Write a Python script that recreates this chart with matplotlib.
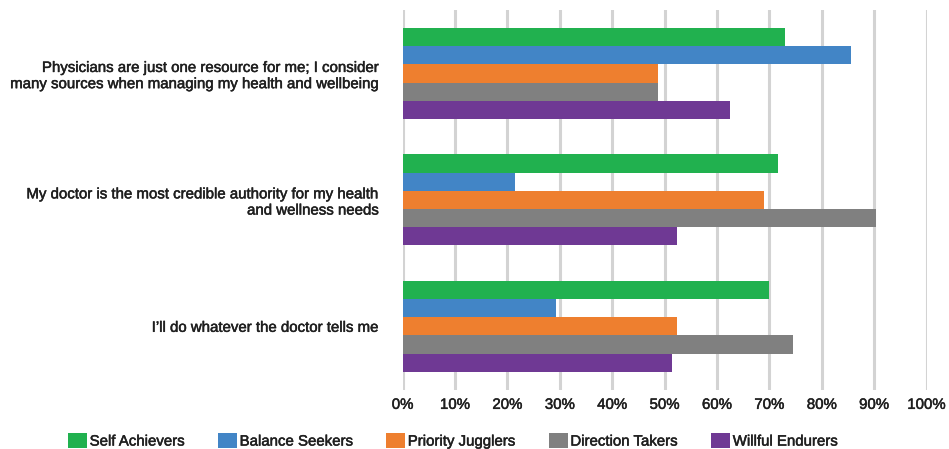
import matplotlib
matplotlib.use("Agg")
import matplotlib.pyplot as plt
import matplotlib.patheffects as pe
import numpy as np

plt.rcParams['font.family'] = ['Liberation Sans', 'DejaVu Sans']

# Survey statements (top to bottom)
statements = [
    "Physicians are just one resource for me; I consider\nmany sources when managing my health and wellbeing",
    "My doctor is the most credible authority for my health\nand wellness needs",
    "I\u2019ll do whatever the doctor tells me",
]

# Segment shares (%) per statement
self_achievers = [73.0, 71.6, 70.0]
balance_seekers = [85.5, 21.4, 29.3]
priority_jugglers = [48.7, 68.9, 52.3]
direction_takers = [48.7, 90.3, 74.5]
willful_endurers = [62.5, 52.3, 51.4]

segments = ["Self Achievers", "Balance Seekers", "Priority Jugglers",
            "Direction Takers", "Willful Endurers"]
colors = ["#21b14f", "#4285c6", "#ee7f2f", "#808080", "#6f3994"]

x_ticks = [0, 10, 20, 30, 40, 50, 60, 70, 80, 90, 100]

series = [self_achievers, balance_seekers, priority_jugglers,
          direction_takers, willful_endurers]

text_color = "#1f1f1f"
heavier = [pe.withStroke(linewidth=0.35, foreground=text_color)]

fig = plt.figure(figsize=(9.49, 4.49), dpi=100)
ax = fig.add_axes([0.4243, 0.1325, 0.5521, 0.8447])

n = len(segments)
bar_h = 0.72 / n
y = np.arange(len(statements))
for k, (vals, name, col) in enumerate(zip(series, segments, colors)):
    offs = (k - (n - 1) / 2) * bar_h
    ax.barh(y + offs, vals, height=bar_h, color=col, label=name, zorder=3)

ax.set_ylim(len(statements) - 0.5, -0.5)
ax.set_xlim(0, 100)
ax.set_xticks(x_ticks)
ax.set_xticklabels([f"{t}%" for t in x_ticks])
ax.set_yticks(y)
ax.set_yticklabels(statements, fontsize=10.8, color=text_color, linespacing=1.2)
ax.tick_params(axis='x', labelsize=10.8, colors=text_color, length=0, pad=6)
ax.tick_params(axis='y', length=0, pad=17)

ax.grid(axis='x', color="#d3d3d3", linewidth=2.2, zorder=0)
for s in ax.spines.values():
    s.set_visible(False)

leg = fig.legend(loc='center', bbox_to_anchor=(453 / 949, 1 - 441 / 449), ncol=5,
                 frameon=False, fontsize=10.8, handlelength=1.27, handleheight=1.07,
                 handletextpad=0.18, columnspacing=2.2, borderpad=0,
                 labelcolor=text_color)

for t in ax.get_xticklabels() + ax.get_yticklabels() + leg.get_texts():
    t.set_path_effects(heavier)

fig.savefig("out.png", dpi=100)
